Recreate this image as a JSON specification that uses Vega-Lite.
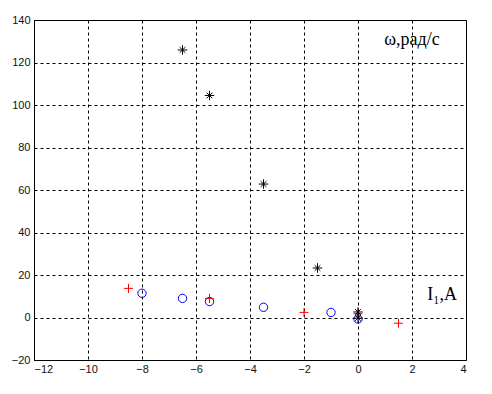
{
  "$schema": "https://vega.github.io/schema/vega-lite/v6.json",
  "autosize": "none",
  "width": 432,
  "height": 340,
  "padding": {"left": 34, "top": 20, "right": 26, "bottom": 34},
  "background": "white",
  "config": {
    "view": {"stroke": "black", "strokeWidth": 1},
    "axis": {
      "domainColor": "black",
      "gridColor": "black",
      "gridDash": [3, 3],
      "gridOpacity": 1,
      "gridWidth": 1,
      "ticks": false,
      "labelFont": "Liberation Sans",
      "labelFontSize": 11,
      "labelColor": "#111",
      "title": null
    }
  },
  "datasets": {
    "pts": [
      {"s": "circ", "x": -8, "y": 11.4},
      {"s": "circ", "x": -6.5, "y": 9},
      {"s": "circ", "x": -5.5, "y": 7.5},
      {"s": "circ", "x": -3.5, "y": 4.8},
      {"s": "circ", "x": -1, "y": 2.4},
      {"s": "circ", "x": 0, "y": -0.7},
      {"s": "plus", "x": -8.5, "y": 13.7},
      {"s": "plus", "x": -5.5, "y": 9},
      {"s": "plus", "x": -2, "y": 2.4},
      {"s": "plus", "x": 0, "y": 1.8},
      {"s": "plus", "x": 1.5, "y": -2.7},
      {"s": "star", "x": -6.5, "y": 125.9},
      {"s": "star", "x": -5.5, "y": 104.5},
      {"s": "star", "x": -3.5, "y": 62.8},
      {"s": "star", "x": -1.5, "y": 23.3},
      {"s": "star", "x": 0, "y": 2.6},
      {"s": "star", "x": 0, "y": -0.3}
    ],
    "labels": [
      {"x": 2.0, "y": 130.6, "t": "ω,рад/с"},
      {"x": 3.12, "y": 10.6, "t": "I₁,A"}
    ]
  },
  "layer": [
    {
      "data": {"name": "pts"},
      "mark": {"type": "point", "filled": false, "strokeWidth": 1, "opacity": 1},
      "encoding": {
        "x": {
          "field": "x", "type": "quantitative",
          "scale": {"domain": [-12, 4], "nice": false, "zero": false},
          "axis": {"values": [-12, -10, -8, -6, -4, -2, 0, 2, 4], "labelPadding": 3}
        },
        "y": {
          "field": "y", "type": "quantitative",
          "scale": {"domain": [-20, 140], "nice": false, "zero": false},
          "axis": {"values": [-20, 0, 20, 40, 60, 80, 100, 120, 140], "labelPadding": 4}
        },
        "shape": {
          "field": "s", "type": "nominal",
          "scale": {"domain": ["circ", "plus", "star"], "range": ["circle", "M-1,0H1M0,-1V1", "M-1,0H1M0,-1V1M-0.6,-0.6L0.6,0.6M-0.6,0.6L0.6,-0.6"]},
          "legend": null
        },
        "color": {
          "field": "s", "type": "nominal",
          "scale": {"domain": ["circ", "plus", "star"], "range": ["#0000ff", "#ff0000", "#000000"]},
          "legend": null
        },
        "size": {
          "field": "s", "type": "nominal",
          "scale": {"domain": ["circ", "plus", "star"], "range": [70, 90, 70]},
          "legend": null
        }
      }
    },
    {
      "data": {"name": "labels"},
      "mark": {"type": "text", "font": "Liberation Serif", "fontSize": 18, "color": "black", "align": "center", "baseline": "middle"},
      "encoding": {
        "x": {"field": "x", "type": "quantitative"},
        "y": {"field": "y", "type": "quantitative"},
        "text": {"field": "t"}
      }
    }
  ]
}
